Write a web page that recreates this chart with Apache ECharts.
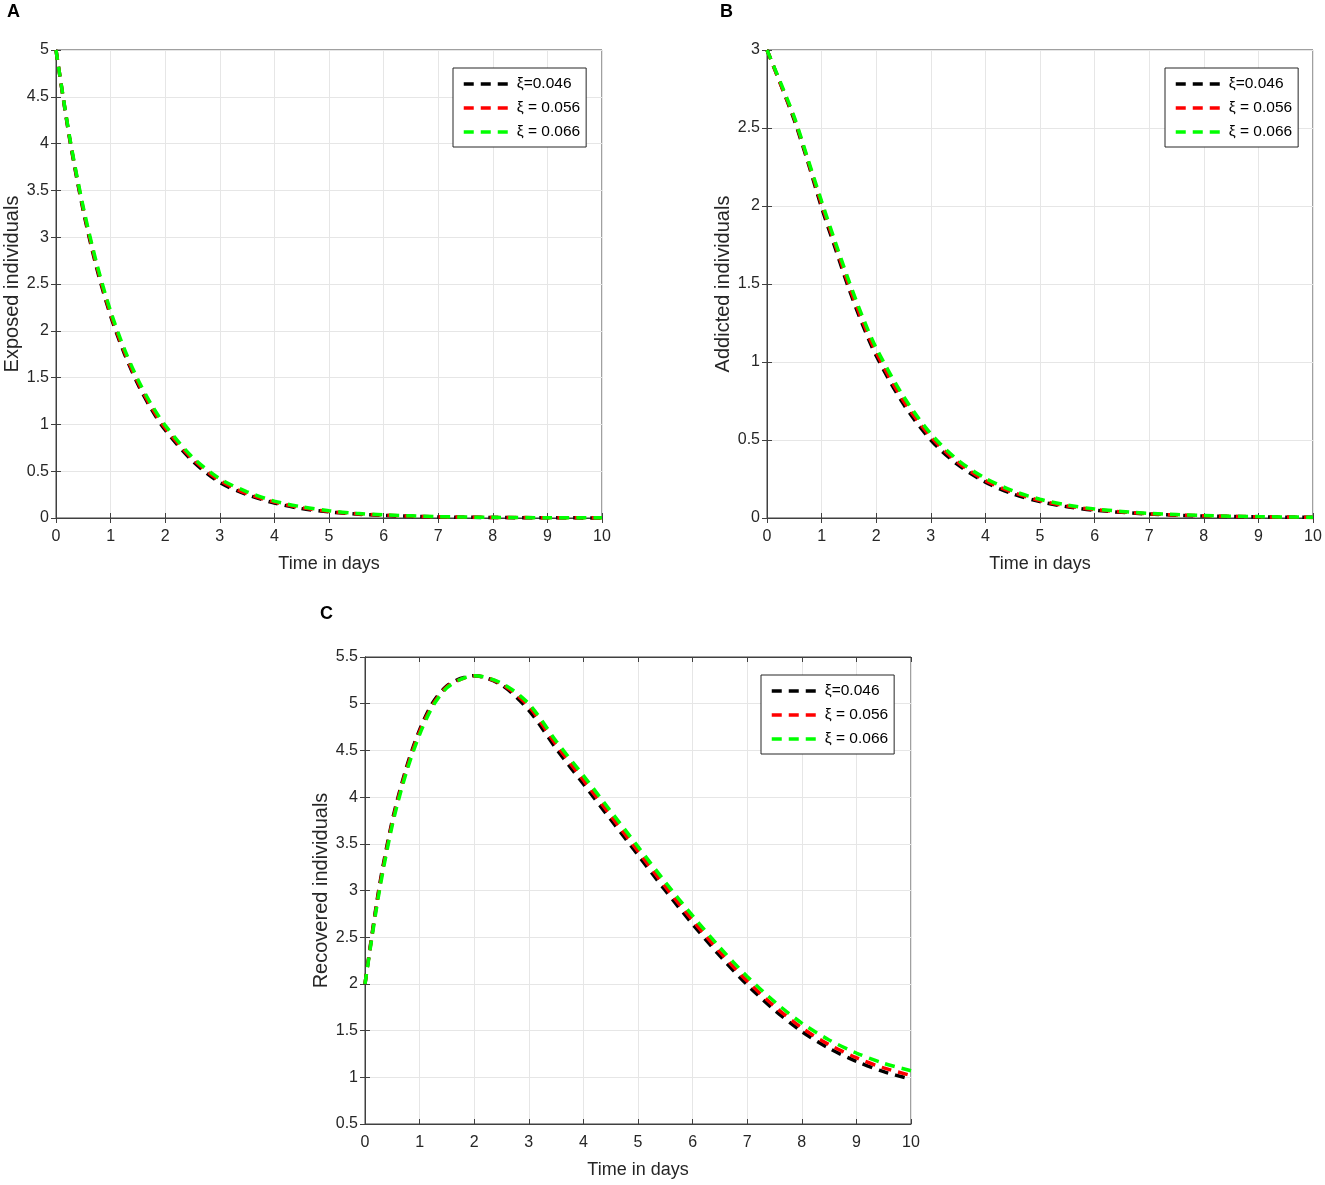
<!DOCTYPE html>
<html>
<head>
<meta charset="utf-8">
<title>Exposed, addicted and recovered individuals</title>
<script src="https://cdn.jsdelivr.net/npm/echarts@6/dist/echarts.min.js"></script>
<style>
  html, body { margin: 0; padding: 0; background: #fff; }
  #chart { width: 1325px; height: 1185px; }
</style>
</head>
<body>
<div id="chart"></div>
<script>
// values
var legendNames = ['ξ=0.046', 'ξ = 0.056', 'ξ = 0.066'];
var lineColors = ['#000000', '#ff0000', '#00ff00'];

var daysAB = [0, 0.25, 0.5, 0.75, 1, 1.25, 1.5, 1.75, 2, 2.5, 3, 3.5, 4, 4.5, 5, 5.5, 6, 7, 8, 9, 10];
var exposed046 = [5, 4.05, 3.28, 2.66, 2.16, 1.76, 1.43, 1.16, 0.94, 0.61, 0.38, 0.25, 0.16, 0.10, 0.065, 0.042, 0.027, 0.011, 0.005, 0.002, 0.001];
var exposed056 = [5, 4.06, 3.30, 2.68, 2.18, 1.78, 1.45, 1.18, 0.96, 0.63, 0.40, 0.26, 0.17, 0.11, 0.07, 0.046, 0.03, 0.013, 0.006, 0.003, 0.001];
var exposed066 = [5, 4.07, 3.32, 2.71, 2.21, 1.81, 1.48, 1.21, 0.99, 0.65, 0.42, 0.28, 0.18, 0.12, 0.078, 0.05, 0.033, 0.015, 0.007, 0.003, 0.002];

var addicted046 = [3, 2.78, 2.55, 2.28, 1.99, 1.73, 1.47, 1.24, 1.04, 0.73, 0.50, 0.34, 0.23, 0.155, 0.105, 0.072, 0.05, 0.025, 0.013, 0.007, 0.004];
var addicted056 = [3, 2.78, 2.56, 2.29, 2.01, 1.75, 1.49, 1.26, 1.06, 0.75, 0.52, 0.355, 0.24, 0.165, 0.112, 0.077, 0.054, 0.027, 0.014, 0.008, 0.004];
var addicted066 = [3, 2.79, 2.57, 2.30, 2.03, 1.77, 1.52, 1.29, 1.09, 0.78, 0.54, 0.37, 0.255, 0.175, 0.12, 0.083, 0.058, 0.03, 0.016, 0.009, 0.005];

var daysC = [0, 0.25, 0.5, 0.75, 1, 1.25, 1.5, 1.75, 2, 2.5, 3, 3.5, 4, 4.5, 5, 5.5, 6, 6.5, 7, 7.5, 8, 8.5, 9, 9.5, 10];
var recovered046 = [2.0, 3.0, 3.75, 4.3, 4.72, 5.02, 5.19, 5.27, 5.3, 5.2, 4.93, 4.52, 4.14, 3.76, 3.38, 3.0, 2.64, 2.30, 1.99, 1.72, 1.49, 1.31, 1.17, 1.06, 0.98];
var recovered056 = [2.0, 2.98, 3.73, 4.28, 4.70, 5.0, 5.18, 5.26, 5.3, 5.21, 4.97, 4.56, 4.18, 3.80, 3.42, 3.04, 2.68, 2.34, 2.03, 1.76, 1.53, 1.35, 1.21, 1.10, 1.02];
var recovered066 = [2.0, 2.95, 3.70, 4.25, 4.67, 4.98, 5.17, 5.26, 5.3, 5.22, 5.0, 4.60, 4.23, 3.85, 3.47, 3.09, 2.73, 2.39, 2.08, 1.81, 1.58, 1.40, 1.26, 1.15, 1.07];

var yNames = ['Exposed individuals', 'Addicted individuals', 'Recovered individuals'];
var yRanges = [[0, 5], [0, 3], [0.5, 5.5]];
var panelSeries = [
  [exposed046, exposed056, exposed066],
  [addicted046, addicted056, addicted066],
  [recovered046, recovered056, recovered066]
];
var panelDays = [daysAB, daysAB, daysC];

var fontFam = '"Liberation Sans", Arial, sans-serif';
var grids = [
  { left: 56, top: 50, width: 546, height: 468 },
  { left: 767, top: 50, width: 546, height: 468 },
  { left: 365, top: 657, width: 546, height: 467 }
];
var legendPos = [
  { left: 453, top: 68 },
  { left: 1165, top: 68 },
  { left: 761, top: 675 }
];

function pairs(xs, ys) {
  var out = [];
  for (var i = 0; i < xs.length; i++) out.push([xs[i], ys[i]]);
  return out;
}

var xAxes = [], yAxes = [], series = [], legends = [];
for (var p = 0; p < 3; p++) {
  grids[p].show = true;
  grids[p].borderColor = '#404040';
  grids[p].borderWidth = 1;
  grids[p].backgroundColor = '#fff';

  xAxes.push({
    type: 'value', gridIndex: p, min: 0, max: 10, interval: 1, position: 'bottom',
    name: 'Time in days', nameLocation: 'middle', nameGap: 37,
    nameTextStyle: { fontSize: 18, color: '#262626', fontFamily: fontFam },
    axisLine: { show: true, lineStyle: { color: '#404040' } },
    axisTick: { show: true, inside: true, length: 5, lineStyle: { color: '#404040' } },
    axisLabel: { fontSize: 16, color: '#262626', margin: 11, fontFamily: fontFam },
    splitLine: { show: true, lineStyle: { color: '#e6e6e6', width: 1 } }
  });
  xAxes.push({
    type: 'value', gridIndex: p, min: 0, max: 10, interval: 1, position: 'top',
    axisLine: { show: true, lineStyle: { color: '#404040' } },
    axisTick: { show: true, inside: true, length: 5, lineStyle: { color: '#404040' } },
    axisLabel: { show: false }, splitLine: { show: false }
  });
  yAxes.push({
    type: 'value', gridIndex: p, min: yRanges[p][0], max: yRanges[p][1], interval: 0.5, position: 'left',
    name: yNames[p], nameLocation: 'middle', nameGap: 34,
    nameTextStyle: { fontSize: 20, color: '#262626', fontFamily: fontFam },
    axisLine: { show: true, lineStyle: { color: '#404040' } },
    axisTick: { show: true, inside: true, length: 5, lineStyle: { color: '#404040' } },
    axisLabel: { fontSize: 16, color: '#262626', margin: 7, fontFamily: fontFam },
    splitLine: { show: true, lineStyle: { color: '#e6e6e6', width: 1 } }
  });
  yAxes.push({
    type: 'value', gridIndex: p, min: yRanges[p][0], max: yRanges[p][1], interval: 0.5, position: 'right',
    axisLine: { show: true, lineStyle: { color: '#404040' } },
    axisTick: { show: true, inside: true, length: 5, lineStyle: { color: '#404040' } },
    axisLabel: { show: false }, splitLine: { show: false }
  });

  for (var s = 0; s < 3; s++) {
    series.push({
      name: legendNames[s],
      type: 'line',
      xAxisIndex: p * 2,
      yAxisIndex: p * 2,
      data: pairs(panelDays[p], panelSeries[p][s]),
      showSymbol: false,
      symbol: 'none',
      smooth: 0.3,
      clip: false,
      color: lineColors[s],
      lineStyle: { color: lineColors[s], width: 3.5, type: [10, 7] },
      z: 3 + s,
      animation: false
    });
  }

  legends.push({
    left: legendPos[p].left,
    top: legendPos[p].top,
    orient: 'vertical',
    data: legendNames,
    itemWidth: 44,
    itemHeight: 14,
    itemGap: 8,
    padding: [8, 6, 7, 9],
    borderColor: '#262626',
    borderWidth: 1,
    backgroundColor: '#fff',
    selectedMode: false,
    itemStyle: { opacity: 0 },
    lineStyle: { width: 3.5, type: [10, 7] },
    textStyle: { fontSize: 15.5, color: '#000', fontFamily: fontFam, padding: [0, 0, 0, 4] }
  });
}

var myChart = echarts.init(document.getElementById('chart'));
var option = {
  backgroundColor: '#fff',
  animation: false,
  textStyle: { fontFamily: fontFam },
  grid: grids,
  xAxis: xAxes,
  yAxis: yAxes,
  legend: legends,
  series: series,
  graphic: [
    { type: 'text', left: 7, top: 3, style: { text: 'A', fontSize: 18, fontWeight: 'bold', fill: '#000', fontFamily: fontFam } },
    { type: 'text', left: 720, top: 3, style: { text: 'B', fontSize: 18, fontWeight: 'bold', fill: '#000', fontFamily: fontFam } },
    { type: 'text', left: 320, top: 605, style: { text: 'C', fontSize: 18, fontWeight: 'bold', fill: '#000', fontFamily: fontFam } }
  ]
};
myChart.setOption(option);
</script>
</body>
</html>
